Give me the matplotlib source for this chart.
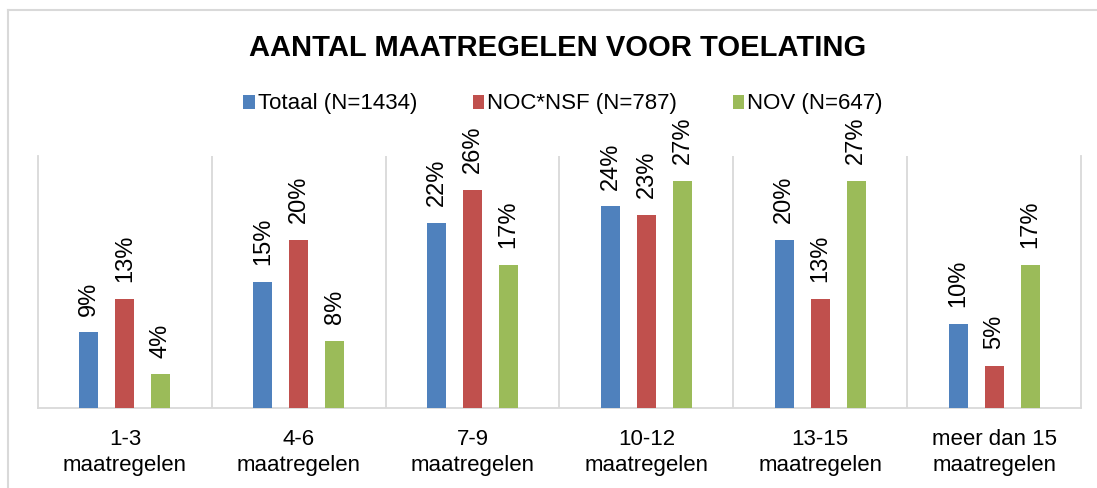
import numpy as np
from matplotlib import pyplot as plt
from matplotlib.lines import Line2D

plt.rcParams['font.family'] = ['Liberation Sans', 'DejaVu Sans']

categories = ['1-3\nmaatregelen', '4-6\nmaatregelen', '7-9\nmaatregelen',
              '10-12\nmaatregelen', '13-15\nmaatregelen', 'meer dan 15\nmaatregelen']
series_names = ['Totaal (N=1434)', 'NOC*NSF (N=787)', 'NOV (N=647)']
totaal = [9, 15, 22, 24, 20, 10]
nocnsf = [13, 20, 26, 23, 13, 5]
nov = [4, 8, 17, 27, 27, 17]

COLORS = ['#4F81BD', '#C0504D', '#9BBB59']  # excel blue, red, green
GRID = '#d9d9d9'

fig = plt.figure(figsize=(10.97, 4.88), dpi=100)
ax = fig.add_axes([38 / 1097, 1 - 408 / 488, (1081 - 38) / 1097, (408 - 156) / 488])

x = np.arange(len(categories))
width = 0.11
offsets = [-0.207, 0, 0.207]
handles = []
for vals, off, col, name in zip([totaal, nocnsf, nov], offsets, COLORS, series_names):
    bars = ax.bar(x + off, vals, width, color=col, label=name, zorder=3)
    handles.append(bars)
    for xi, v in zip(x + off, vals):
        ax.text(xi, v + 2.0, '{}%'.format(v), rotation=90, ha='center', va='bottom',
                fontsize=17, color='#000000')

ax.set_xlim(-0.5, len(categories) - 0.5)
ax.set_ylim(0, 30)
ax.set_yticks([])
ax.set_xticks(x)
ax.set_xticklabels(categories, fontsize=16, linespacing=1.3)
ax.tick_params(axis='x', length=0, pad=15)
for b in np.arange(0.5, len(categories) - 0.5):
    ax.axvline(b, color=GRID, linewidth=1.3, zorder=1)
for side in ['left', 'right', 'bottom']:
    ax.spines[side].set_color(GRID)
    ax.spines[side].set_linewidth(1.3)
ax.spines['top'].set_visible(False)

# outer chart frame (only top and left visible in the crop)
fig.add_artist(Line2D([8 / 1097, 8 / 1097], [0, 1 - 10 / 488], color=GRID, linewidth=1.5))
fig.add_artist(Line2D([8 / 1097, 1], [1 - 10 / 488, 1 - 10 / 488], color=GRID, linewidth=1.5))

fig.text(558 / 1097, 1 - 48 / 488, 'AANTAL MAATREGELEN VOOR TOELATING', ha='center', va='center',
         fontsize=21, fontweight='bold')
fig.legend(handles=handles, labels=series_names, loc='center', bbox_to_anchor=(563 / 1097, 1 - 104 / 488),
           ncol=3, frameon=False, fontsize=16, handlelength=0.5, handleheight=0.6,
           handletextpad=0.15, columnspacing=2.5)

plt.savefig('out.png', dpi=100)
